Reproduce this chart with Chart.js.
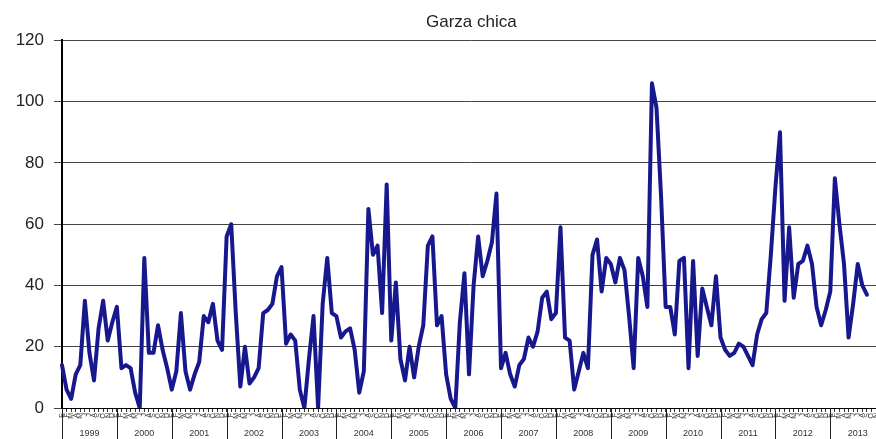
<!DOCTYPE html>
<html>
<head>
<meta charset="utf-8">
<script src="https://cdn.jsdelivr.net/npm/chart.js@4/dist/chart.umd.min.js"></script>
<style>
  html, body { margin: 0; padding: 0; background: #fff; overflow: hidden; }
  #wrap { width: 890px; height: 439px; }
</style>
</head>
<body>
<div id="wrap"><canvas id="chart" width="890" height="439"></canvas></div>
<script>
const years = [1999, 2000, 2001, 2002, 2003, 2004, 2005, 2006, 2007, 2008, 2009, 2010, 2011, 2012, 2013];
const monthInitials = ["E", "F", "M", "A", "M", "J", "J", "A", "S", "O", "N", "D"];
const yTicks = [0, 20, 40, 60, 80, 100, 120];

// monthly counts, Jan 1999 .. Sep 2013
const counts = [
  14, 6, 3, 11, 14, 35, 18, 9, 26, 35, 22, 28,      // 1999
  33, 13, 14, 13, 5, 0, 49, 18, 18, 27, 19, 13,     // 2000
  6, 12, 31, 12, 6, 11, 15, 30, 28, 34, 22, 19,     // 2001
  56, 60, 31, 7, 20, 8, 10, 13, 31, 32, 34, 43,     // 2002
  46, 21, 24, 22, 6, 0, 16, 30, 0, 34, 49, 31,      // 2003
  30, 23, 25, 26, 19, 5, 12, 65, 50, 53, 31, 73,    // 2004
  22, 41, 16, 9, 20, 10, 20, 27, 53, 56, 27, 30,    // 2005
  11, 3, 0, 28, 44, 11, 40, 56, 43, 48, 54, 70,     // 2006
  13, 18, 11, 7, 14, 16, 23, 20, 25, 36, 38, 29,    // 2007
  31, 59, 23, 22, 6, 12, 18, 13, 50, 55, 38, 49,    // 2008
  47, 41, 49, 45, 30, 13, 49, 43, 33, 106, 98, 69,  // 2009
  33, 33, 24, 48, 49, 13, 48, 17, 39, 33, 27, 43,   // 2010
  23, 19, 17, 18, 21, 20, 17, 14, 24, 29, 31, 50,   // 2011
  72, 90, 35, 59, 36, 47, 48, 53, 47, 33, 27, 32,   // 2012
  38, 75, 60, 47, 23, 34, 47, 40, 37                // 2013
];

const labels = [];
for (const y of years) for (const m of monthInitials) labels.push(m);
const data = labels.map((_, i) => (i < counts.length ? counts[i] : null));

// year labels + separators under the month ticks
const yearAxis = {
  id: "yearAxis",
  afterDraw(chart) {
    const ctx = chart.ctx;
    const x = chart.scales.x;
    const top = chart.chartArea.bottom;
    const step = x.getPixelForValue(1) - x.getPixelForValue(0);
    ctx.save();
    ctx.strokeStyle = "#222";
    ctx.lineWidth = 1;
    ctx.fillStyle = "#333";
    ctx.font = "9px 'Liberation Sans', Arial, sans-serif";
    ctx.textAlign = "center";
    ctx.textBaseline = "middle";
    years.forEach((yr, k) => {
      const x0 = x.getPixelForValue(k * 12);
      const x1 = x0 + step * 12;
      ctx.beginPath();
      ctx.moveTo(Math.round(x0) + 0.5, top);
      ctx.lineTo(Math.round(x0) + 0.5, chart.height);
      ctx.stroke();
      ctx.fillText(String(yr), (x0 + x1) / 2, 434);
    });
    ctx.restore();
  }
};

new Chart(document.getElementById("chart"), {
  type: "line",
  data: {
    labels,
    datasets: [{
      label: "Garza chica",
      data,
      borderColor: "#18188e",
      borderWidth: 4,
      borderJoinStyle: "round",
      borderCapStyle: "round",
      pointRadius: 0,
      tension: 0,
      spanGaps: false
    }]
  },
  options: {
    responsive: false,
    animation: false,
    layout: { padding: { left: 0, right: 5, top: 0, bottom: 0 } },
    plugins: {
      legend: { display: false },
      tooltip: { enabled: false },
      title: {
        display: true,
        text: "Garza chica",
        fullSize: false,
        color: "#222",
        font: { family: "'Liberation Sans', Arial, sans-serif", size: 17, weight: "normal" },
        padding: { top: 12, bottom: 8 }
      }
    },
    scales: {
      x: {
        type: "category",
        offset: false,
        afterFit(scale) { scale.height = 31; },
        grid: { drawOnChartArea: false, drawTicks: true, tickLength: 4, color: "#333", offset: false },
        border: { display: true, color: "#000", width: 1 },
        ticks: {
          autoSkip: false,
          maxRotation: 90,
          minRotation: 90,
          padding: 1,
          color: "#444",
          font: { family: "'Liberation Sans', Arial, sans-serif", size: 7 }
        }
      },
      y: {
        min: 0,
        max: 120,
        afterFit(scale) { scale.width = 62; },
        afterBuildTicks(scale) { scale.ticks = yTicks.map(v => ({ value: v })); },
        grid: { color: "#444", lineWidth: 1, tickLength: 8, drawTicks: true },
        border: { display: true, color: "#000", width: 2 },
        ticks: {
          padding: 10,
          color: "#222",
          font: { family: "'Liberation Sans', Arial, sans-serif", size: 17 }
        }
      }
    }
  },
  plugins: [yearAxis]
});
</script>
</body>
</html>
